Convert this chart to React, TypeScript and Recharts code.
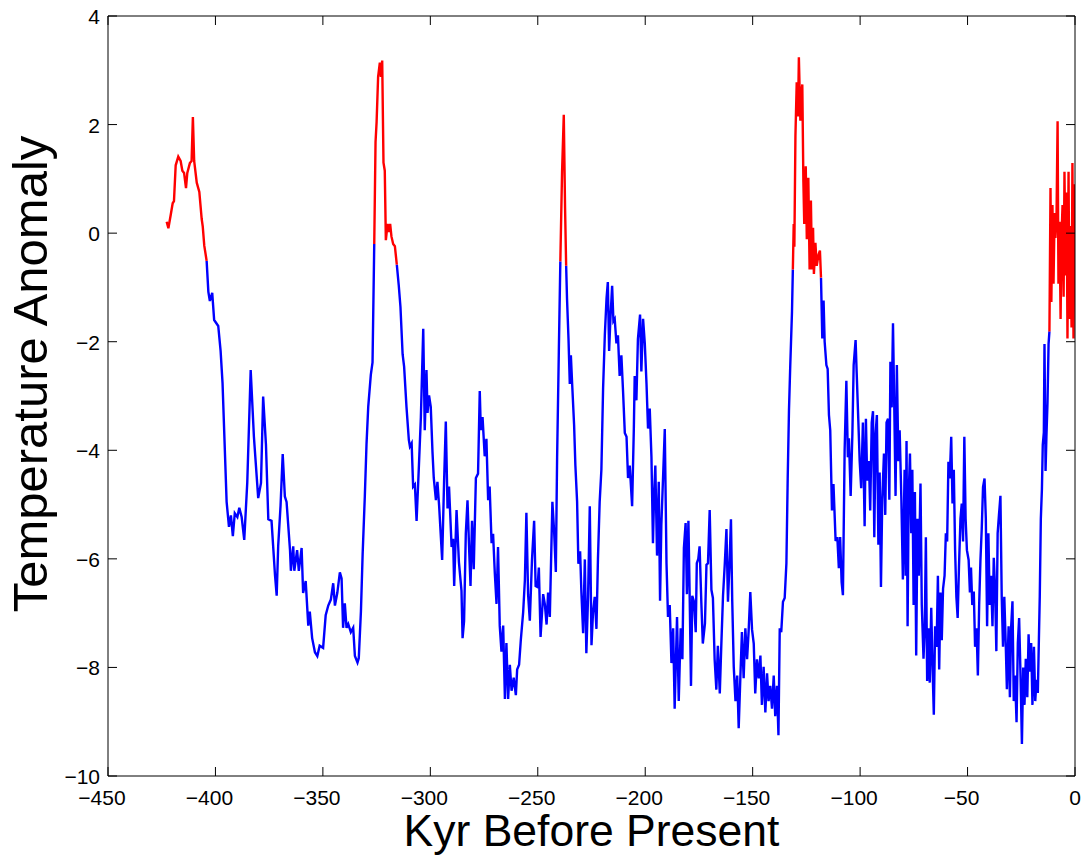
import { LineChart, Line, XAxis, YAxis } from "recharts";

// Vostok-style temperature anomaly record (kyr before present, anomaly)
const kyr = [
  -422.7, -421.9, -420.8, -419.9, -419.3, -418.5, -417.3, -416.2, -415.4, -414.6,
  -413.7, -413.1, -411.9, -411.1, -410.5, -409.9, -408.7, -407.5, -406.4, -405.9,
  -405.2, -404.1, -403.3, -402.6, -401.5, -400.6, -398.7, -397.6, -396.7, -394.8,
  -393.7, -392.8, -391.9, -391, -389.8, -388.9, -387.8, -386.6, -385.2, -383.6,
  -382.1, -380.1, -378.8, -377.8, -376.5, -375.4, -373.9, -372.3, -371.5, -370.8,
  -369.7, -368.7, -367.7, -366.9, -365.3, -364.9, -363.8, -363.3, -362, -361.2,
  -359.9, -359.2, -358, -356.8, -356.1, -355, -353.7, -352.6, -351.5, -349.9,
  -348.7, -347.5, -346.3, -345.2, -344.4, -343.3, -342.1, -341.3, -340.6, -339.8,
  -339, -338.2, -337, -335.9, -335.1, -333.9, -333.3, -332.3, -331.5, -330.5,
  -329.7, -328.9, -327.7, -326.9, -326.1, -325.5, -325, -324.3, -323.5, -323,
  -322.4, -321.8, -321.2, -320.7, -319.9, -319.4, -318.7, -318.1, -317.3, -316.5,
  -315.6, -314.7, -313.9, -312.9, -312.2, -311.1, -310, -309.5, -308.7, -308,
  -307.2, -306.4, -305.3, -304.4, -303.3, -302.6, -301.8, -301.3, -300.6, -299.8,
  -299, -298.4, -297.4, -296.7, -295.9, -294.5, -293.6, -292.8, -292, -291.3,
  -290.1, -289.4, -288.9, -287.8, -286.7, -285.5, -285, -284.3, -283.5, -282.7,
  -281.9, -281.3, -280.6, -279.8, -278.8, -277.8, -277, -276.5, -275.7, -274.7,
  -273.9, -273.1, -272.4, -271.5, -270.8, -270, -269.2, -268.5, -267.7, -266.9,
  -266.1, -265.3, -264.6, -263.8, -263, -262.2, -261.2, -260.2, -259.6, -258.7,
  -257.9, -256.8, -256, -255.3, -254.5, -253.7, -252.7, -251.7, -251, -250.1,
  -249.5, -248.7, -247.5, -246.7, -245.9, -245.2, -244.4, -243.2, -242.4, -241.6,
  -241, -240.2, -239.5, -238.7, -237.9, -237.3, -236.8, -236.4, -235.7, -235.1,
  -234.6, -234, -233.1, -232.5, -231.7, -231.1, -230.3, -229.7, -228.9, -228.1,
  -227.4, -226.6, -225.8, -225, -224.3, -223.5, -222.7, -222, -221.2, -220.4,
  -219.6, -218.8, -218, -217.4, -216.8, -216.2, -215.4, -214.8, -214.2, -213.4,
  -212.7, -211.9, -211.1, -210.3, -209.5, -208.7, -208, -207.2, -206.1, -205.3,
  -204.9, -204.1, -203.4, -202.4, -201.8, -201, -200.2, -199.4, -198.7, -197.9,
  -197.1, -196.4, -195.9, -195.3, -194.5, -193.7, -193.1, -192.5, -191.7, -190.9,
  -190.1, -189.4, -188.6, -187.8, -187, -186.3, -185.2, -184.4, -183.5, -182.7,
  -182, -181.2, -180.6, -179.9, -179.3, -178.7, -178.1, -177.3, -176.5, -176,
  -175.3, -174.7, -173.9, -173.2, -172.2, -171.5, -170.8, -170, -169.2, -168.5,
  -167.7, -166.9, -166.2, -165.3, -164.6, -163.8, -163, -162.2, -161.5, -160.7,
  -160.1, -159.5, -158.8, -158, -157.2, -156.5, -155.7, -155, -154.2, -153.4,
  -152.6, -151.9, -151.1, -150.3, -149.5, -148.8, -148, -147.2, -146.4, -145.7,
  -144.9, -144.1, -143.3, -142.6, -141.8, -141, -140.2, -139.5, -138.7, -138,
  -137.4, -136.7, -135.9, -135.1, -134.3, -133.7, -133.1, -132.5, -131.7, -131.3,
  -130.9, -130.6, -130.1, -129.5, -128.9, -128.5, -127.8, -127.4, -126.9, -126.4,
  -126, -125.3, -124.8, -124.1, -123.5, -122.9, -122.4, -121.9, -121.5, -120.8,
  -120.2, -119.3, -118.7, -118.2, -117.6, -117, -116.5, -115.7, -115.1, -114.5,
  -113.9, -113.1, -112.4, -111.4, -110.6, -109.9, -109.3, -108.6, -108, -107.2,
  -106.4, -105.7, -105.2, -104.4, -103.6, -103, -102.1, -101.6, -100.8, -100.2,
  -99.5, -98.7, -97.9, -97.3, -96.7, -95.9, -95.3, -94.6, -94, -93.4,
  -92.8, -92.2, -91.5, -90.9, -90.3, -89.7, -88.9, -88.3, -87.7, -87,
  -86.4, -85.9, -85.3, -84.7, -84.1, -83.5, -82.9, -82.2, -81.6, -80.8,
  -80.1, -79.3, -78.8, -78.4, -77.9, -77.4, -76.8, -76.2, -75.7, -75.1,
  -74.5, -73.9, -73.3, -72.7, -71.9, -71.3, -70.5, -69.9, -69.4, -68.8,
  -68.1, -67.6, -66.9, -66.3, -65.7, -65.1, -64.4, -63.8, -63.2, -62.6,
  -62, -61.4, -60.7, -60.1, -59.5, -58.9, -58.3, -57.6, -57, -56.4,
  -55.8, -55.2, -54.6, -54, -53.3, -52.7, -52.1, -51.5, -50.9, -50.3,
  -49.5, -48.9, -48.4, -47.8, -47.1, -46.5, -45.8, -45.2, -44.6, -44,
  -43.4, -42.8, -42.1, -41.5, -40.9, -40.3, -39.7, -39.1, -38.4, -37.8,
  -37.2, -36.6, -36, -35.4, -34.7, -34.1, -33.5, -32.9, -32.2, -31.7,
  -30.9, -30.3, -29.7, -29.1, -28.5, -27.9, -27.2, -26.6, -26, -25.3,
  -24.7, -24.1, -23.5, -22.9, -22.2, -21.6, -21, -20.4, -19.8, -19.1,
  -18.5, -17.9, -17.3, -16.8, -16.4, -15.9, -15.4, -15, -14.5, -14.2,
  -13.7, -13.3, -12.8, -12.3, -11.9, -11.4, -11, -10.5, -10, -9.5,
  -9.1, -8.6, -8.1, -7.7, -7.2, -6.7, -6.3, -5.8, -5.3, -4.9,
  -4.4, -3.9, -3.5, -3, -2.6, -2.1, -1.6, -1.2, -0.7, -0.2,
];

const temp = [
  0.21, 0.09, 0.34, 0.55, 0.59, 1.25, 1.41, 1.33, 1.15, 1.11,
  0.83, 1.11, 1.29, 1.33, 2.14, 1.33, 0.93, 0.76, 0.26, 0.12,
  -0.23, -0.51, -1.08, -1.25, -1.1, -1.6, -1.71, -2.17, -2.76, -4.95,
  -5.41, -5.2, -5.58, -5.16, -5.23, -5.06, -5.23, -5.65, -4.6, -2.52,
  -3.75, -4.88, -4.6, -3.01, -3.89, -5.27, -5.3, -6.29, -6.68, -5.76,
  -5.02, -4.07, -4.85, -4.95, -5.84, -6.22, -5.77, -6.22, -5.84, -6.22,
  -5.8, -6.63, -6.41, -7.23, -6.97, -7.46, -7.72, -7.79, -7.6, -7.64,
  -7.04, -6.86, -6.75, -6.45, -6.86, -6.63, -6.25, -6.36, -7.27, -6.82,
  -7.27, -7.2, -7.35, -7.27, -7.79, -7.91, -7.83, -6.97, -5.91, -4.86,
  -3.89, -3.2, -2.61, -2.38, -0.2, 1.68, 2.05, 2.88, 3.14, 2.88,
  3.18, 1.3, 1.15, -0.13, 0.17, 0.02, 0.17, -0.06, -0.2, -0.24,
  -0.58, -0.96, -1.36, -2.23, -2.46, -3.2, -3.81, -3.93, -3.87, -4.67,
  -4.63, -5.3, -4.27, -3.39, -1.76, -3.63, -2.52, -3.31, -2.99, -3.2,
  -4.03, -4.51, -4.92, -4.58, -5.03, -6.02, -4.58, -3.47, -5.07, -4.67,
  -5.78, -5.63, -6.5, -5.1, -6.06, -6.59, -7.46, -7.15, -5.54, -4.92,
  -5.87, -6.5, -5.3, -6.19, -4.51, -4.43, -2.91, -3.63, -3.39, -4.11,
  -3.79, -4.92, -4.67, -5.71, -5.54, -6.26, -6.83, -5.78, -7.23, -7.71,
  -7.23, -8.58, -7.55, -8.58, -7.95, -8.43, -8.19, -8.51, -8.04, -7.95,
  -7.5, -6.98, -6.39, -5.15, -6.66, -7.14, -6.02, -5.3, -6.5, -6.52,
  -6.16, -7.44, -6.65, -6.84, -7.21, -6.62, -7.07, -4.95, -5.49, -6.24,
  -4.12, -2.17, -0.52, 1.13, 2.18, 0.46, -0.6, -1.2, -1.95, -2.78,
  -2.25, -2.78, -3.53, -4.28, -4.95, -6.09, -5.86, -6.62, -7.37, -6.01,
  -7.74, -6.7, -5.03, -7.59, -6.99, -6.7, -7.29, -6.01, -4.95, -4.36,
  -2.85, -1.88, -1.2, -0.9, -2.17, -1.58, -0.97, -1.62, -1.58, -2.03,
  -1.88, -2.63, -2.25, -2.93, -3.68, -3.75, -4.51, -4.28, -5.03, -3.6,
  -2.63, -3.08, -1.95, -1.5, -2.55, -1.58, -2.03, -2.78, -3.6, -3.23,
  -4.13, -5.71, -4.88, -4.28, -5.94, -4.58, -6.77, -5.38, -4.5, -3.61,
  -6.08, -7.07, -6.85, -7.92, -7.28, -8.76, -7.07, -8.62, -7.28, -7.85,
  -5.8, -5.34, -6.65, -5.3, -6.72, -8.34, -6.68, -6.79, -7.35, -6.08,
  -6.0, -5.77, -6.79, -7.56, -7.19, -6.11, -6.08, -5.1, -6.57, -6.72,
  -7.85, -8.41, -7.6, -8.48, -7.6, -6.68, -6.11, -5.45, -6.79, -6.0,
  -5.27, -6.79, -7.99, -8.62, -8.15, -9.12, -8.15, -7.35, -8.2, -7.28,
  -7.85, -7.35, -6.61, -7.3, -7.56, -8.48, -7.85, -8.2, -7.78, -8.69,
  -7.99, -8.83, -8.11, -8.62, -8.34, -8.76, -8.15, -8.9, -8.34, -9.25,
  -7.28, -7.35, -6.79, -6.72, -6.08, -4.53, -3.26, -2.43, -1.45, -0.67,
  0.17, -0.25, 1.79, 2.78, 2.15, 3.24, 2.07, 2.57, 2.74, 0.95,
  0.17, 1.23, -0.11, 1.02, -0.67, 0.6, -0.67, 0.1, -0.75, -0.18,
  -0.6, -0.39, -0.32, -0.82, -1.94, -1.24, -2.0, -2.43, -2.5, -3.35,
  -3.63, -5.11, -4.62, -5.67, -5.6, -6.17, -5.6, -6.43, -6.67, -3.99,
  -2.72, -4.13, -3.78, -4.84, -3.7, -2.43, -1.97, -2.57, -3.49, -4.2,
  -4.7, -3.49, -5.4, -3.42, -4.56, -4.2, -5.11, -3.49, -3.28, -5.6,
  -3.7, -3.35, -5.74, -4.41, -6.52, -4.91, -4.06, -5.19, -3.49, -3.42,
  -4.91, -2.37, -3.21, -1.66, -3.21, -4.84, -2.43, -4.2, -3.63, -4.91,
  -6.38, -4.36, -6.31, -3.83, -7.24, -4.84, -4.06, -5.53, -4.36, -6.85,
  -4.77, -7.78, -5.26, -6.31, -4.61, -6.85, -7.84, -7.24, -5.6, -8.25,
  -7.28, -8.28, -6.9, -7.98, -8.87, -7.24, -7.62, -6.31, -8.04, -6.62,
  -7.5, -6.55, -6.31, -5.53, -5.68, -4.21, -4.52, -3.75, -4.98, -4.36,
  -5.83, -6.7, -7.09, -6.16, -5.26, -4.98, -5.68, -3.75, -5.26, -5.84,
  -6.02, -6.62, -6.16, -6.85, -6.6, -7.62, -7.28, -8.15, -6.85, -6.02,
  -5.45, -4.68, -4.52, -5.26, -7.24, -5.53, -6.85, -6.31, -7.24, -5.98,
  -6.55, -7.7, -5.53, -5.2, -4.84, -6.7, -7.62, -6.7, -7.62, -8.4,
  -7.24, -8.55, -7.24, -6.78, -8.62, -8.15, -9.01, -7.55, -7.09, -8.23,
  -9.41, -8.0, -8.69, -7.84, -8.55, -7.39, -8.08, -7.55, -8.69, -7.62,
  -8.62, -8.23, -8.47, -7.47, -6.7, -5.26, -4.72, -3.9, -3.67, -2.04,
  -4.38, -3.75, -3.13, -2.04, -1.81, 0.83, -1.27, 0.52, -0.93, 0.37,
  -0.09, 0.29, 2.06, -0.93, 0.21, -1.58, -0.09, 0.52, -1.17, 1.13,
  -0.78, 0.75, -1.94, 1.13, -1.58, 0.13, -1.74, 1.29, -1.94, 0.9,
];

// interglacial stretches drawn in red (ends are data points so the colours join)
const warmSpans: [number, number][] = [
  [-423, -404.1],
  [-326.1, -315.6],
  [-239.5, -236.8],
  [-131.3, -118.2],
  [-11.9, 0],
];

const xTicks = [-450, -400, -350, -300, -250, -200, -150, -100, -50, 0];
const yTicks = [-10, -8, -6, -4, -2, 0, 2, 4];

const data = kyr.map((k, i) => {
  const span = warmSpans.find(([a, b]) => k >= a && k <= b);
  const edge = span ? k === span[0] || k === span[1] : false;
  return {
    kyr: k,
    cold: span && !edge ? null : temp[i],
    warm: span ? temp[i] : null,
  };
});

const FONT = "'Liberation Sans', Arial, Helvetica, sans-serif";
const TICK_LEN = 9;

const fmt = (v: number) => (v < 0 ? "\u2212" + Math.abs(v) : String(v));

function BottomTick({ x, y, payload }: any) {
  return (
    <g>
      <line x1={x} y1={y} x2={x} y2={y - TICK_LEN} stroke="#000" />
      <text
        x={payload.value < 0 ? x - 6 : x}
        y={y + 29}
        textAnchor="middle"
        fontSize={21}
        fontFamily={FONT}
        fill="#000"
      >
        {fmt(payload.value)}
      </text>
    </g>
  );
}

function TopTick({ x, y }: any) {
  return <line x1={x} y1={y} x2={x} y2={y + TICK_LEN} stroke="#000" />;
}

function LeftTick({ x, y, payload }: any) {
  return (
    <g>
      <line x1={x} y1={y} x2={x + TICK_LEN} y2={y} stroke="#000" />
      <text
        x={x - 8}
        y={y + 8}
        textAnchor="end"
        fontSize={21}
        fontFamily={FONT}
        fill="#000"
      >
        {fmt(payload.value)}
      </text>
    </g>
  );
}

function RightTick({ x, y }: any) {
  return <line x1={x} y1={y} x2={x - TICK_LEN} y2={y} stroke="#000" />;
}

export default function App() {
  return (
    <div style={{ position: "absolute", left: 0, top: 0, width: 1082, height: 855 }}>
      <LineChart
        width={1082}
        height={855}
        data={data}
        margin={{ top: 0, right: 0, bottom: 0, left: 0 }}
      >
        <XAxis
          dataKey="kyr"
          type="number"
          domain={[-450, 0]}
          ticks={xTicks}
          allowDataOverflow
          height={79}
          tickSize={0}
          tickMargin={0}
          tickLine={false}
          axisLine={{ stroke: "#000" }}
          tick={BottomTick}
          label={() => (
            <text
              x={591.5}
              y={846}
              textAnchor="middle"
              fontSize={44.5}
              fontFamily={FONT}
              fill="#000"
            >
              Kyr Before Present
            </text>
          )}
        />
        <XAxis
          xAxisId="top"
          orientation="top"
          dataKey="kyr"
          type="number"
          domain={[-450, 0]}
          ticks={xTicks}
          allowDataOverflow
          height={16}
          tickSize={0}
          tickMargin={0}
          tickLine={false}
          axisLine={{ stroke: "#000" }}
          tick={TopTick}
        />
        <YAxis
          type="number"
          domain={[-10, 4]}
          ticks={yTicks}
          allowDataOverflow
          width={108}
          tickSize={0}
          tickMargin={0}
          tickLine={false}
          axisLine={{ stroke: "#000" }}
          tick={LeftTick}
          label={() => (
            <text
              x={47}
              y={374}
              transform="rotate(-90 47 374)"
              textAnchor="middle"
              fontSize={49}
              fontFamily={FONT}
              fill="#000"
            >
              Temperature Anomaly
            </text>
          )}
        />
        <YAxis
          yAxisId="right"
          orientation="right"
          type="number"
          domain={[-10, 4]}
          ticks={yTicks}
          allowDataOverflow
          width={7}
          tickSize={0}
          tickMargin={0}
          tickLine={false}
          axisLine={{ stroke: "#000" }}
          tick={RightTick}
        />
        <Line
          dataKey="cold"
          type="linear"
          stroke="#0000ff"
          strokeWidth={2.4}
          dot={false}
          connectNulls={false}
          isAnimationActive={false}
        />
        <Line
          dataKey="warm"
          type="linear"
          stroke="#ff0000"
          strokeWidth={2.4}
          dot={false}
          connectNulls={false}
          isAnimationActive={false}
        />
      </LineChart>
    </div>
  );
}
